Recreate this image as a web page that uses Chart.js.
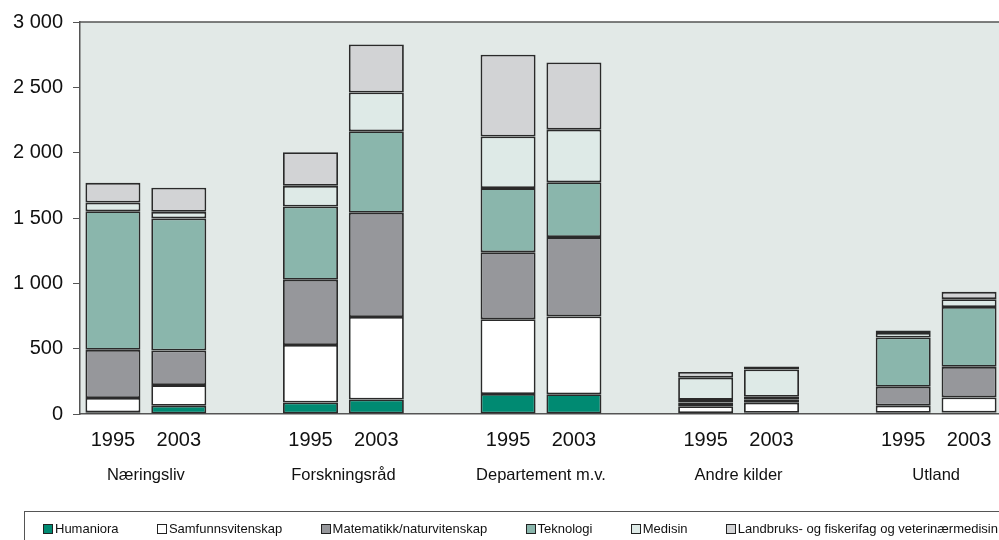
<!doctype html>
<html lang="no">
<head>
<meta charset="utf-8">
<title>FoU-utgifter etter finansieringskilde og fagområde, 1995 og 2003</title>
<script src="https://cdn.jsdelivr.net/npm/chart.js"></script>
<style>
  html, body { margin: 0; padding: 0; background: #fff; }
  #wrap { position: relative; width: 999px; height: 540px; overflow: hidden; }
  #chart { position: absolute; left: 0; top: 0; }
  .legend {
    position: absolute; left: 24px; top: 511px; width: 1010px; height: 40px;
    border: 1px solid #555; box-sizing: border-box;
  }
  .legend-items {
    position: absolute; left: 18px; top: 9px; width: 955px;
    display: flex; justify-content: space-between;
    font: 13px "Liberation Sans", Arial, sans-serif; color: #111;
  }
  .legend-item { display: flex; align-items: center; white-space: nowrap; }
  .legend-item i {
    display: inline-block; width: 8px; height: 8px; margin-right: 2px;
    border: 1px solid #222;
  }
</style>
</head>
<body>
<div id="wrap">
  <canvas id="chart" width="1040" height="540" style="width:1040px;height:540px"></canvas>
  <div class="legend"><div class="legend-items" id="legend"></div></div>
</div>

<script>
// kategorier: to år per finansieringskilde, tom plass mellom gruppene
const slotLabels = ['1995', '2003', '', '1995', '2003', '', '1995', '2003', '', '1995', '2003', '', '1995', '2003'];
const groupNames = ['Næringsliv', 'Forskningsråd', 'Departement m.v.', 'Andre kilder', 'Utland'];

// verdier lest av figuren
const humaniora   = [13,   63,   null, 88,  111, null, 153, 151, null, 8,   9,   null, 9,   12];
const samfunn     = [110,  158,  null, 440, 631, null, 572, 596, null, 52,  78,  null, 55,  115];
const matematikk  = [368,  265,  null, 499, 798, null, 513, 607, null, 28,  25,  null, 144, 234];
const teknologi   = [1061, 1011, null, 561, 624, null, 491, 420, null, 20,  20,  null, 377, 458];
const medisin     = [66,   50,   null, 158, 297, null, 395, 402, null, 170, 209, null, 35,  60];
const landbruk    = [151,  184,  null, 257, 367, null, 626, 514, null, 44,  23,  null, 19,  56];

const yTicks = [0, 500, 1000, 1500, 2000, 2500, 3000];

const seriesNames  = ['Humaniora', 'Samfunnsvitenskap', 'Matematikk/naturvitenskap', 'Teknologi', 'Medisin', 'Landbruks- og fiskerifag og veterinærmedisin'];
const seriesData   = [humaniora, samfunn, matematikk, teknologi, medisin, landbruk];
const seriesColors = ['#008A72', '#FFFFFF', '#96979B', '#8AB6AC', '#DEEAE7', '#D2D3D5'];

const FONT = '"Liberation Sans", Arial, sans-serif';

// tusenskille med mellomrom
function fmt(v) {
  return String(v).replace(/\B(?=(\d{3})+(?!\d))/g, ' ');
}

// bakgrunn og topplinje i plottområdet
const plotBg = {
  id: 'plotBg',
  beforeDraw(chart) {
    const { ctx, chartArea: a } = chart;
    ctx.save();
    ctx.fillStyle = '#E2E9E7';
    ctx.fillRect(a.left, a.top, a.right - a.left, a.bottom - a.top);
    ctx.strokeStyle = '#555';
    ctx.lineWidth = 1.5;
    ctx.beginPath();
    ctx.moveTo(a.left, a.top);
    ctx.lineTo(a.right, a.top);
    ctx.stroke();
    ctx.restore();
  }
};

// gruppenavn midt under hvert par av søyler
const groupLabels = {
  id: 'groupLabels',
  afterDraw(chart) {
    const { ctx, chartArea: a } = chart;
    const x = chart.scales.x;
    ctx.save();
    ctx.font = '16.5px ' + FONT;
    ctx.fillStyle = '#111';
    ctx.textAlign = 'center';
    ctx.textBaseline = 'middle';
    groupNames.forEach((name, g) => {
      const i = g * 3;
      const cx = (x.getPixelForValue(i) + x.getPixelForValue(i + 1)) / 2;
      ctx.fillText(name, cx, a.bottom + 61);
    });
    ctx.restore();
  }
};

new Chart(document.getElementById('chart'), {
  type: 'bar',
  data: {
    labels: slotLabels,
    datasets: seriesNames.map((name, k) => ({
      label: name,
      data: seriesData[k],
      backgroundColor: seriesColors[k],
      borderColor: '#2A2A2A',
      borderWidth: 1.8,
      borderSkipped: false,
      barPercentage: 0.835,
      categoryPercentage: 1
    }))
  },
  options: {
    responsive: false,
    devicePixelRatio: 1,
    animation: false,
    layout: { padding: { top: 16, right: 38, left: 0, bottom: 0 } },
    plugins: {
      legend: { display: false },
      tooltip: { enabled: false }
    },
    scales: {
      x: {
        stacked: true,
        grid: { display: false, drawTicks: false },
        border: { display: true, color: '#555', width: 1.5 },
        ticks: {
          autoSkip: false, maxRotation: 0, padding: 14,
          color: '#111', font: { family: FONT, size: 20 }
        },
        afterFit(scale) { scale.height = 126; }
      },
      y: {
        stacked: true,
        min: 0,
        max: 3000,
        grid: { display: true, drawOnChartArea: false, drawTicks: true, tickLength: 7, color: '#555' },
        border: { display: true, color: '#555', width: 1.5 },
        afterBuildTicks(scale) { scale.ticks = yTicks.map(v => ({ value: v })); },
        ticks: {
          padding: 10, color: '#111', font: { family: FONT, size: 20 },
          callback: v => fmt(v)
        },
        afterFit(scale) { scale.width = 80; }
      }
    }
  },
  plugins: [plotBg, groupLabels]
});

// egen forklaring under figuren
const legendEl = document.getElementById('legend');
seriesNames.forEach((name, k) => {
  const item = document.createElement('span');
  item.className = 'legend-item';
  const box = document.createElement('i');
  box.style.background = seriesColors[k];
  item.appendChild(box);
  item.appendChild(document.createTextNode(name));
  legendEl.appendChild(item);
});
</script>
</body>
</html>
